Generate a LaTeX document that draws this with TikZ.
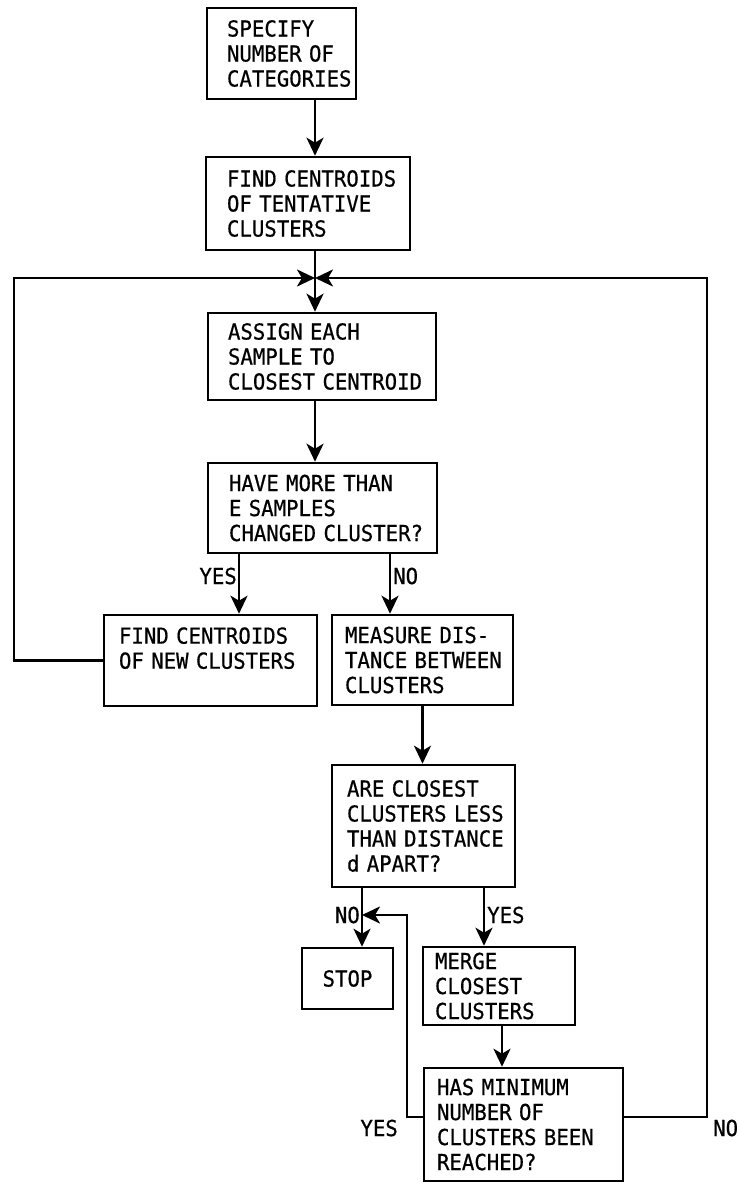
\documentclass[tikz,border=0pt]{standalone}
\usepackage{fontspec}
\newfontfamily\flowfont[FakeStretch=0.94,FakeBold=0.6]{DejaVu Sans Mono}
\usetikzlibrary{arrows.meta}
\newcommand{\fline}[1]{\mbox{#1}}
\newcommand{\flowsize}{\flowfont\fontsize{22}{25}\selectfont\spaceskip=0.566em\relax}
\begin{document}
\begin{tikzpicture}[x=1pt,y=-1pt,
  box/.style={draw, line width=2.6pt, font=\flowsize, align=left, inner ysep=0pt},
  conn/.style={line width=2.6pt, -{Stealth[length=18pt,width=17pt,inset=5pt]}},
  lbl/.style={font=\flowsize, inner sep=0pt}]
\useasboundingbox (0,0) rectangle (741,1183);
\fill[white] (0,0) rectangle (741,1183);

\node[box, inner xsep=20pt, text width=109pt, minimum height=91pt] (b1) at (281.5,53.5) {\fline{SPECIFY}\\\fline{NUMBER OF}\\\fline{CATEGORIES}};
\node[box, inner xsep=21pt, text width=162pt, minimum height=93pt] (b2) at (308,203.5) {\fline{FIND CENTROIDS}\\\fline{OF TENTATIVE}\\\fline{CLUSTERS}};
\node[box, inner xsep=20pt, text width=188pt, minimum height=87pt] (b3) at (322,356.5) {\fline{ASSIGN EACH}\\\fline{SAMPLE TO}\\\fline{CLOSEST CENTROID}};
\node[box, inner xsep=21pt, text width=187pt, minimum height=90pt] (b4) at (322.5,508) {\fline{HAVE MORE THAN}\\\fline{E SAMPLES}\\\fline{CHANGED CLUSTER?}};
\node[box, inner xsep=15pt, text width=183pt, minimum height=91pt] (b5) at (210.5,660.5) {\fline{FIND CENTROIDS}\\\fline{OF NEW CLUSTERS}\\\mbox{}};
\node[box, inner xsep=13pt, text width=155pt, minimum height=90pt] (b6) at (422.5,660) {\fline{MEASURE DIS-}\\\fline{TANCE BETWEEN}\\\fline{CLUSTERS}};
\node[box, inner xsep=15pt, text width=153pt, minimum height=122pt] (b7) at (423.5,826) {\fline{ARE CLOSEST}\\\fline{CLUSTERS LESS}\\\fline{THAN DISTANCE}\\\fline{d APART?}};
\node[box, align=center, inner xsep=0pt, minimum width=91pt, minimum height=61pt] (stop) at (347.5,978.5) {STOP};
\node[box, inner xsep=12pt, text width=128pt, minimum height=78pt] (merge) at (499,986) {\fline{MERGE}\\\fline{CLOSEST}\\\fline{CLUSTERS}};
\node[box, inner xsep=13pt, text width=173pt, minimum height=113pt] (has) at (523.5,1124.5) {\fline{HAS MINIMUM}\\\fline{NUMBER OF}\\\fline{CLUSTERS BEEN}\\\fline{REACHED?}};

\coordinate (j) at (315,278);
\coordinate (yx) at (239,0);
\coordinate (nx) at (390,0);
\coordinate (sj) at (362,915);
\coordinate (mx) at (484,0);
\coordinate (hx) at (502,0);
\coordinate (hy) at (0,1117);
\coordinate (lx) at (407,0);
\coordinate (rx) at (707,0);
\coordinate (ox) at (14,0);

\draw[conn] (b1.south -| j) -- (b2.north -| j);
\draw[conn] (b2.south -| j) -- (b3.north -| j);
\draw[conn] (b3.south -| j) -- (b4.north -| j);
\draw[conn] (b4.south -| yx) -- (b5.north -| yx);
\draw[conn] (b4.south -| nx) -- (b6.north -| nx);
\draw[conn] (b6.south) -- (b7.north -| b6.south);
\draw[conn] (b7.south -| sj) -- (stop.north -| sj);
\draw[conn] (b7.south -| mx) -- (merge.north -| mx);
\draw[conn] (merge.south -| hx) -- (has.north -| hx);

\draw[conn] (b5.west) -| (ox |- j) -- (j);
\draw[conn] (has.east |- hy) -| (rx |- j) -- (j);
\draw[conn] (has.west |- hy) -| (lx |- sj) -- (sj);

\node[lbl, anchor=east] (l1) at (237,576) {YES};
\node[lbl, anchor=west] (l2) at (393,576) {NO};
\node[lbl, anchor=east] (l3) at (360,915) {NO};
\node[lbl, anchor=west] (l4) at (487,915) {YES};
\node[lbl, anchor=east] (l5) at (398,1128) {YES};
\node[lbl, anchor=west] (l6) at (713,1128) {NO};
\end{tikzpicture}
\end{document}
